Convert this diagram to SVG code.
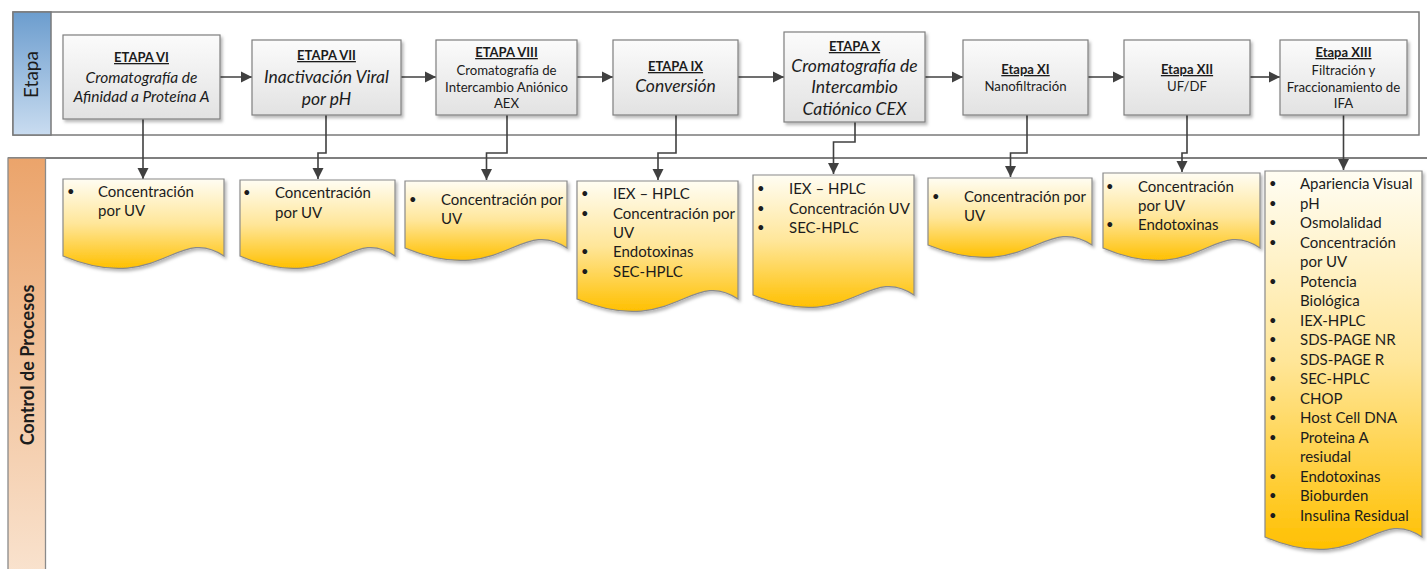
<svg xmlns="http://www.w3.org/2000/svg" width="1427" height="569" viewBox="0 0 1427 569">
  <defs>
    <linearGradient id="gBlue" x1="0" y1="0" x2="0" y2="1">
      <stop offset="0" stop-color="#6c9dce"/>
      <stop offset="1" stop-color="#c9dcf0"/>
    </linearGradient>
    <linearGradient id="gOrange" x1="0" y1="0" x2="0" y2="1">
      <stop offset="0" stop-color="#eba46b"/>
      <stop offset="1" stop-color="#f9e3cf"/>
    </linearGradient>
    <linearGradient id="gBox" x1="0" y1="0" x2="0" y2="1">
      <stop offset="0" stop-color="#fbfbfb"/>
      <stop offset="1" stop-color="#e2e2e2"/>
    </linearGradient>
    <linearGradient id="gDoc" x1="0" y1="0" x2="0" y2="1">
      <stop offset="0" stop-color="#fffdf3"/>
      <stop offset="0.5" stop-color="#ffe699"/>
      <stop offset="1" stop-color="#ffc000"/>
    </linearGradient>
    <filter id="shadow" x="-10%" y="-10%" width="125%" height="130%">
      <feDropShadow dx="2" dy="2.5" stdDeviation="1.5" flood-color="#000" flood-opacity="0.28"/>
    </filter>
    <marker id="arrow" markerWidth="12" markerHeight="12" refX="11" refY="6" orient="auto" markerUnits="userSpaceOnUse">
      <path d="M0,0.5 L11,6 L0,11.5 Z" fill="#404040"/>
    </marker>
  </defs>
  <style>
    text { font-family: Lato, "Open Sans", "Liberation Sans", sans-serif; fill: #1c1c1c; }
    .box { fill: url(#gBox); stroke: #7f7f7f; stroke-width: 1.2; filter: url(#shadow); }
    .doc { fill: url(#gDoc); stroke: #8a8a8a; stroke-width: 1.2; filter: url(#shadow); }
    .hd { font-size: 13px; font-weight: bold; text-anchor: middle; text-decoration: underline; }
    .it { font-size: 15.5px; font-style: italic; text-anchor: middle; }
    .itl { font-size: 17.5px; font-style: italic; text-anchor: middle; }
    .rg { font-size: 13.2px; text-anchor: middle; }
    .li { font-size: 15px; }
    .bu { font-size: 13px; }
    .conn { fill: none; stroke: #404040; stroke-width: 1.6; marker-end: url(#arrow); }
  </style>

  <!-- swimlane: Etapa -->
  <g id="lane-etapa">
    <rect x="13" y="12" width="1406" height="123" fill="#ffffff" stroke="#7a7a7a" stroke-width="1.5"/>
    <rect x="13" y="12" width="38" height="123" fill="url(#gBlue)" stroke="#7a7a7a" stroke-width="1.5"/>
    <text transform="translate(37.5,74.5) rotate(-90)" text-anchor="middle" font-size="19">Etapa</text>
  </g>

  <!-- swimlane: Control de Procesos -->
  <g id="lane-control">
    <line x1="8" y1="158" x2="1427" y2="158" stroke="#555" stroke-width="1.3"/>
    <rect x="8" y="158" width="37.5" height="420" fill="url(#gOrange)" stroke="#8a8a8a" stroke-width="1.3"/>
    <text transform="translate(33.5,365) rotate(-90)" text-anchor="middle" font-size="18" font-weight="bold">Control de Procesos</text>
  </g>

  <!-- connectors -->
  <g id="connectors">
    <line class="conn" x1="219" y1="77" x2="252" y2="77"/>
    <line class="conn" x1="401" y1="77" x2="436" y2="77"/>
    <line class="conn" x1="577" y1="77" x2="613" y2="77"/>
    <line class="conn" x1="738" y1="77" x2="784" y2="77"/>
    <line class="conn" x1="925" y1="77" x2="963" y2="77"/>
    <line class="conn" x1="1088" y1="77" x2="1124" y2="77"/>
    <line class="conn" x1="1250" y1="77" x2="1280" y2="77"/>

    <path class="conn" d="M143,119 L143,179"/>
    <path class="conn" d="M326,115 L326,153 L318,153 L318,179"/>
    <path class="conn" d="M507,115 L507,153 L486.5,153 L486.5,180"/>
    <path class="conn" d="M676,115 L676,153 L658,153 L658,180"/>
    <path class="conn" d="M855,122 L855,142 L833.5,142 L833.5,174"/>
    <path class="conn" d="M1027,115 L1027,153 L1010.5,153 L1010.5,177"/>
    <path class="conn" d="M1187,115 L1187,153 L1182,153 L1182,172"/>
    <path class="conn" d="M1343.5,115 L1343.5,170"/>
  </g>

  <!-- process steps -->
  <g id="etapa-vi">
    <rect class="box" x="63" y="35" width="157" height="84"/>
    <text class="hd" x="141.5" y="62">ETAPA VI</text>
    <text class="it" x="141.5" y="82.5">Cromatografía de</text>
    <text class="it" x="141.5" y="102">Afinidad a Proteína A</text>
  </g>
  <g id="etapa-vii">
    <rect class="box" x="252" y="40" width="149" height="75"/>
    <text class="hd" x="326.5" y="60">ETAPA VII</text>
    <text class="itl" x="326.5" y="82.5">Inactivación Viral</text>
    <text class="itl" x="326.5" y="104.5">por pH</text>
  </g>
  <g id="etapa-viii">
    <rect class="box" x="436" y="40" width="141" height="75"/>
    <text class="hd" x="506.5" y="57">ETAPA VIII</text>
    <text class="rg" x="506.5" y="74.5">Cromatografía de</text>
    <text class="rg" x="506.5" y="91.5">Intercambio Aniónico</text>
    <text class="rg" x="506.5" y="108">AEX</text>
  </g>
  <g id="etapa-ix">
    <rect class="box" x="613" y="40" width="125" height="75"/>
    <text class="hd" x="675.5" y="71">ETAPA IX</text>
    <text class="itl" x="675.5" y="92">Conversión</text>
  </g>
  <g id="etapa-x">
    <rect class="box" x="784" y="32" width="141" height="90"/>
    <text class="hd" x="854.5" y="51">ETAPA X</text>
    <text class="itl" x="854.5" y="71.5">Cromatografía de</text>
    <text class="itl" x="854.5" y="92.5">Intercambio</text>
    <text class="itl" x="854.5" y="114.5">Catiónico CEX</text>
  </g>
  <g id="etapa-xi">
    <rect class="box" x="963" y="40" width="125" height="75"/>
    <text class="hd" x="1025.5" y="74">Etapa XI</text>
    <text class="rg" x="1025.5" y="91">Nanofiltración</text>
  </g>
  <g id="etapa-xii">
    <rect class="box" x="1124" y="40" width="126" height="75"/>
    <text class="hd" x="1187" y="74">Etapa XII</text>
    <text class="rg" x="1187" y="91">UF/DF</text>
  </g>
  <g id="etapa-xiii">
    <rect class="box" x="1280" y="40" width="127" height="75"/>
    <text class="hd" x="1343.5" y="57">Etapa XIII</text>
    <text class="rg" x="1343.5" y="74.5">Filtración y</text>
    <text class="rg" x="1343.5" y="91.5">Fraccionamiento de</text>
    <text class="rg" x="1343.5" y="108">IFA</text>
  </g>

  <!-- in-process controls (document shapes with wavy bottom) -->
  <g id="control-vi">
    <path class="doc" d="M63,179 H224 V256 C176.7,224 159.6,296 63,256 Z"/>
    <text class="bu" x="67" y="196">•</text>
    <text class="li" x="98" y="197">Concentración</text>
    <text class="li" x="98" y="216">por UV</text>
  </g>
  <g id="control-vii">
    <path class="doc" d="M240,180 H395 V256 C349.5,224 333,296 240,256 Z"/>
    <text class="bu" x="243" y="197">•</text>
    <text class="li" x="275" y="198">Concentración</text>
    <text class="li" x="275" y="218">por UV</text>
  </g>
  <g id="control-viii">
    <path class="doc" d="M405,181 H567 V248 C519.4,216 502.2,288 405,248 Z"/>
    <text class="bu" x="409" y="204">•</text>
    <text class="li" x="441" y="205">Concentración por</text>
    <text class="li" x="441" y="224">UV</text>
  </g>
  <g id="control-ix">
    <path class="doc" d="M577,181 H738 V299 C690.7,267 673.6,339 577,299 Z"/>
    <text class="bu" x="581" y="198">•</text>
    <text class="li" x="613" y="199">IEX – HPLC</text>
    <text class="bu" x="581" y="217.5">•</text>
    <text class="li" x="613" y="218.5">Concentración por</text>
    <text class="li" x="613" y="238">UV</text>
    <text class="bu" x="581" y="256">•</text>
    <text class="li" x="613" y="257">Endotoxinas</text>
    <text class="bu" x="581" y="275.5">•</text>
    <text class="li" x="613" y="276.5">SEC-HPLC</text>
  </g>
  <g id="control-x">
    <path class="doc" d="M753,175 H914 V295 C866.7,263 849.6,335 753,295 Z"/>
    <text class="bu" x="757" y="193">•</text>
    <text class="li" x="789" y="194">IEX – HPLC</text>
    <text class="bu" x="757" y="213">•</text>
    <text class="li" x="789" y="214">Concentración UV</text>
    <text class="bu" x="757" y="232">•</text>
    <text class="li" x="789" y="233">SEC-HPLC</text>
  </g>
  <g id="control-xi">
    <path class="doc" d="M928,178 H1092 V245 C1043.8,213 1026.4,285 928,245 Z"/>
    <text class="bu" x="932" y="201">•</text>
    <text class="li" x="964" y="202">Concentración por</text>
    <text class="li" x="964" y="221">UV</text>
  </g>
  <g id="control-xii">
    <path class="doc" d="M1103,173 H1260 V248 C1213.9,216 1197.2,288 1103,248 Z"/>
    <text class="bu" x="1106" y="190.5">•</text>
    <text class="li" x="1138" y="191.5">Concentración</text>
    <text class="li" x="1138" y="211">por UV</text>
    <text class="bu" x="1106" y="229">•</text>
    <text class="li" x="1138" y="230">Endotoxinas</text>
  </g>
  <g id="control-xiii">
    <path class="doc" d="M1265,171 H1422 V537 C1375.9,505 1359.2,577 1265,537 Z"/>
    <text class="bu" x="1269" y="188">•</text>
    <text class="li" x="1300" y="189">Apariencia Visual</text>
    <text class="bu" x="1269" y="207.5">•</text>
    <text class="li" x="1300" y="208.5">pH</text>
    <text class="bu" x="1269" y="227">•</text>
    <text class="li" x="1300" y="228">Osmolalidad</text>
    <text class="bu" x="1269" y="246.5">•</text>
    <text class="li" x="1300" y="247.5">Concentración</text>
    <text class="li" x="1300" y="267">por UV</text>
    <text class="bu" x="1269" y="285.5">•</text>
    <text class="li" x="1300" y="286.5">Potencia</text>
    <text class="li" x="1300" y="306">Biológica</text>
    <text class="bu" x="1269" y="324.5">•</text>
    <text class="li" x="1300" y="325.5">IEX-HPLC</text>
    <text class="bu" x="1269" y="344">•</text>
    <text class="li" x="1300" y="345">SDS-PAGE NR</text>
    <text class="bu" x="1269" y="363.5">•</text>
    <text class="li" x="1300" y="364.5">SDS-PAGE R</text>
    <text class="bu" x="1269" y="383">•</text>
    <text class="li" x="1300" y="384">SEC-HPLC</text>
    <text class="bu" x="1269" y="402.5">•</text>
    <text class="li" x="1300" y="403.5">CHOP</text>
    <text class="bu" x="1269" y="422">•</text>
    <text class="li" x="1300" y="423">Host Cell DNA</text>
    <text class="bu" x="1269" y="441.5">•</text>
    <text class="li" x="1300" y="442.5">Proteina A</text>
    <text class="li" x="1300" y="462">resiudal</text>
    <text class="bu" x="1269" y="480.5">•</text>
    <text class="li" x="1300" y="481.5">Endotoxinas</text>
    <text class="bu" x="1269" y="500">•</text>
    <text class="li" x="1300" y="501">Bioburden</text>
    <text class="bu" x="1269" y="519.5">•</text>
    <text class="li" x="1300" y="520.5">Insulina Residual</text>
  </g>
</svg>
